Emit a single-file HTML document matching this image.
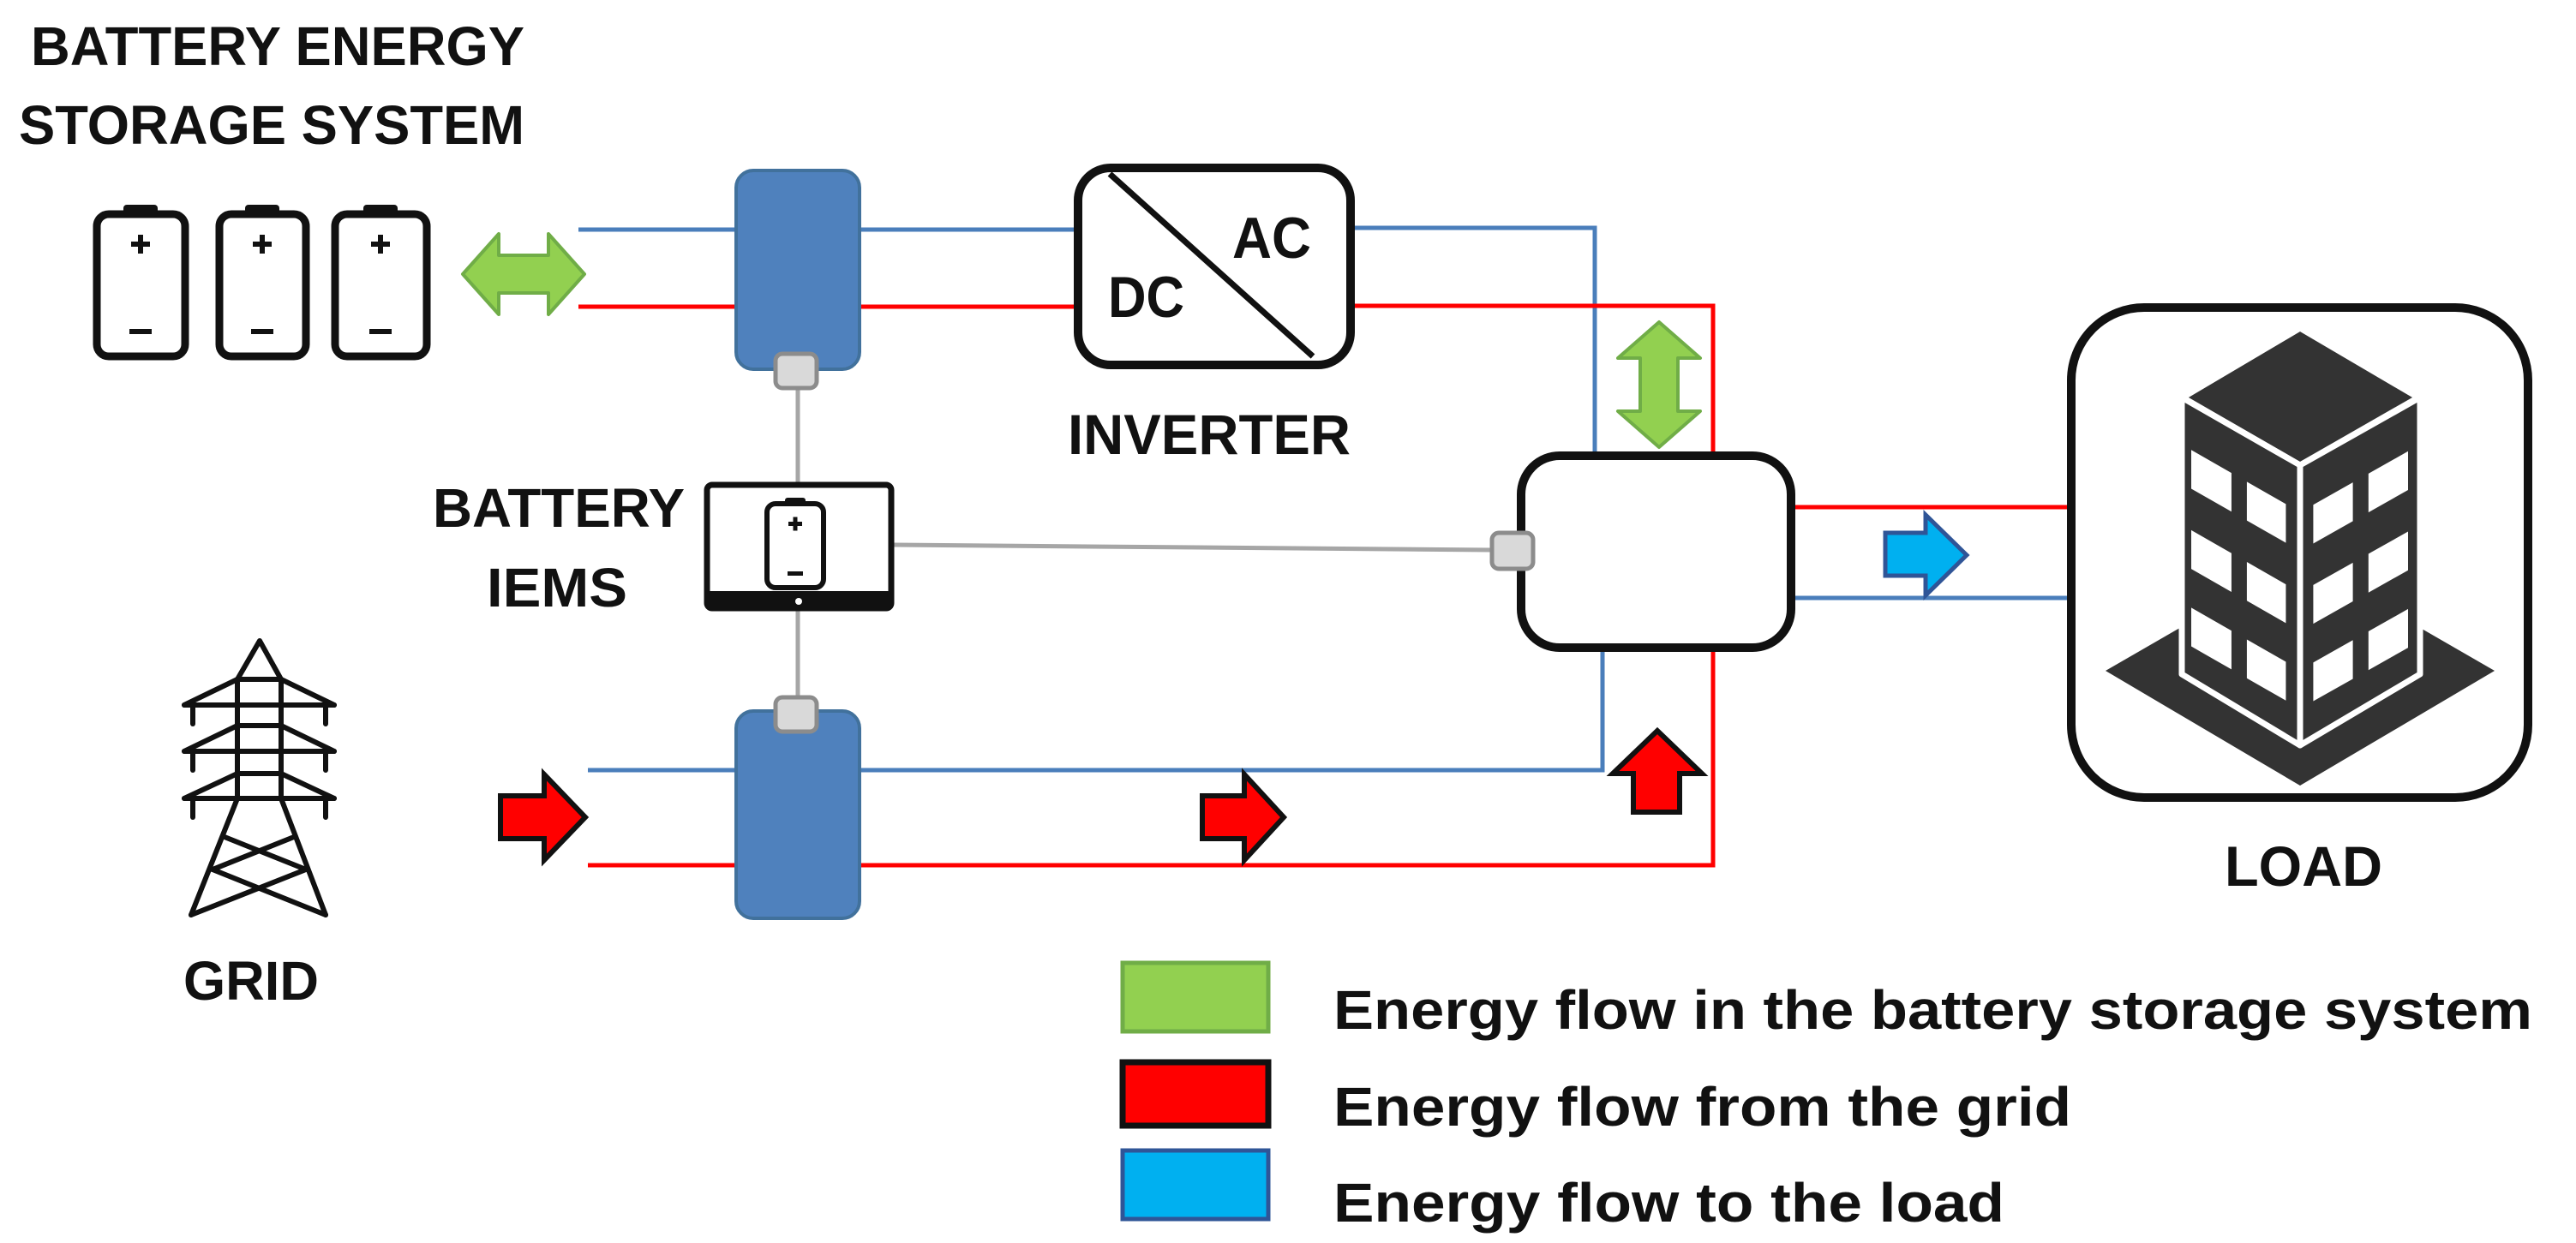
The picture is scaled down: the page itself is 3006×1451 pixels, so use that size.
<!DOCTYPE html>
<html><head><meta charset="utf-8"><style>
html,body{margin:0;padding:0;background:#fff;}
svg{display:block;}
text{font-family:"Liberation Sans",Arial,sans-serif;font-weight:bold;fill:#111;}
</style></head><body>
<svg width="3006" height="1451" viewBox="0 0 3006 1451" xmlns="http://www.w3.org/2000/svg">
<rect width="3006" height="1451" fill="#fff"/>
<!-- Titles -->
<text x="36" y="76" font-size="64" textLength="576" lengthAdjust="spacingAndGlyphs">BATTERY ENERGY</text>
<text x="22" y="168" font-size="64" textLength="590" lengthAdjust="spacingAndGlyphs">STORAGE SYSTEM</text>

<!-- Batteries -->
<g stroke="#111" stroke-width="9" fill="#fff">
<rect x="113" y="250" width="103" height="166" rx="14"/>
<rect x="256" y="250" width="101" height="166" rx="14"/>
<rect x="391" y="250" width="107" height="166" rx="14"/>
</g>
<g fill="#111">
<rect x="144" y="239" width="40" height="14" rx="4"/>
<rect x="286" y="239" width="40" height="14" rx="4"/>
<rect x="424" y="239" width="40" height="14" rx="4"/>
<!-- plus -->
<rect x="153" y="282" width="22" height="6"/><rect x="161" y="274" width="6" height="22"/>
<rect x="295" y="282" width="22" height="6"/><rect x="303" y="274" width="6" height="22"/>
<rect x="433" y="282" width="22" height="6"/><rect x="441" y="274" width="6" height="22"/>
<!-- minus -->
<rect x="151" y="384" width="26" height="6"/>
<rect x="293" y="384" width="26" height="6"/>
<rect x="431" y="384" width="26" height="6"/>
</g>

<!-- Green horizontal double arrow -->
<polygon points="540,320 582,273 582,298 640,298 640,273 682,320 640,367 640,342 582,342 582,367" fill="#92d050" stroke="#70ad47" stroke-width="4" stroke-linejoin="round"/>

<!-- wires -->
<g fill="none" stroke-width="5">
<line x1="675" y1="268" x2="860" y2="268" stroke="#4a7ebb"/>
<line x1="675" y1="358" x2="860" y2="358" stroke="#ff0000"/>
<line x1="1002" y1="268" x2="1253" y2="268" stroke="#4a7ebb"/>
<line x1="1002" y1="358" x2="1253" y2="358" stroke="#ff0000"/>
<polyline points="1578,266 1861,266 1861,528" stroke="#4a7ebb"/>
<polyline points="1578,357 1999,357 1999,528" stroke="#ff0000"/>
<line x1="686" y1="899" x2="860" y2="899" stroke="#4a7ebb"/>
<line x1="686" y1="1010" x2="860" y2="1010" stroke="#ff0000"/>
<polyline points="1002,899 1870,899 1870,760" stroke="#4a7ebb"/>
<polyline points="1002,1010 1999,1010 1999,760" stroke="#ff0000"/>
<line x1="2094" y1="592" x2="2412" y2="592" stroke="#ff0000"/>
<line x1="2094" y1="698" x2="2412" y2="698" stroke="#4a7ebb"/>
<line x1="931" y1="453" x2="931" y2="563" stroke="#a6a6a6"/>
<line x1="931" y1="713" x2="931" y2="812" stroke="#a6a6a6"/>
<line x1="1043" y1="636" x2="1740" y2="642" stroke="#a6a6a6"/>
</g>

<!-- Modules -->
<rect x="859" y="199" width="144" height="232" rx="20" fill="#4f81bd" stroke="#41719c" stroke-width="4"/>
<rect x="859" y="830" width="144" height="242" rx="20" fill="#4f81bd" stroke="#41719c" stroke-width="4"/>
<rect x="905" y="413" width="48" height="40" rx="8" fill="#d9d9d9" stroke="#8c8c8c" stroke-width="5"/>
<rect x="905" y="814" width="48" height="40" rx="8" fill="#d9d9d9" stroke="#8c8c8c" stroke-width="5"/>

<!-- Inverter -->
<rect x="1258" y="196" width="318" height="230" rx="38" fill="#fff" stroke="#111" stroke-width="10"/>
<line x1="1295" y1="203" x2="1532" y2="416" stroke="#111" stroke-width="7"/>
<text x="1438" y="301" font-size="68" textLength="92" lengthAdjust="spacingAndGlyphs">AC</text>
<text x="1293" y="370" font-size="68" textLength="89" lengthAdjust="spacingAndGlyphs">DC</text>
<text x="1246" y="530" font-size="66" textLength="330" lengthAdjust="spacingAndGlyphs">INVERTER</text>

<!-- IEMS tablet -->
<rect x="825" y="566" width="215" height="144" rx="6" fill="#fff" stroke="#111" stroke-width="7"/>
<rect x="825" y="690" width="215" height="22" rx="4" fill="#111"/>
<circle cx="932" cy="702" r="4" fill="#fff"/>
<rect x="895" y="588" width="66" height="98" rx="10" fill="#fff" stroke="#111" stroke-width="6"/>
<rect x="916" y="581" width="24" height="9" rx="3" fill="#111"/>
<rect x="920" y="609" width="16" height="5" fill="#111"/><rect x="925.5" y="603.5" width="5" height="16" fill="#111"/>
<rect x="919" y="667" width="18" height="5" fill="#111"/>
<text x="505" y="615" font-size="64" textLength="294" lengthAdjust="spacingAndGlyphs">BATTERY</text>
<text x="568" y="708" font-size="64" textLength="164" lengthAdjust="spacingAndGlyphs">IEMS</text>

<!-- Center box -->
<rect x="1775" y="532" width="315" height="224" rx="45" fill="#fff" stroke="#111" stroke-width="10"/>
<rect x="1741" y="622" width="48" height="42" rx="8" fill="#d9d9d9" stroke="#8c8c8c" stroke-width="5"/>

<!-- Green vertical double arrow -->
<polygon points="1936,376 1984,418 1958,418 1958,480 1984,480 1936,522 1888,480 1914,480 1914,418 1888,418" fill="#92d050" stroke="#70ad47" stroke-width="4" stroke-linejoin="round"/>

<!-- Red arrows -->
<polygon points="584,929 635,929 635,904 683,954 635,1004 635,979 584,979" fill="#ff0000" stroke="#111" stroke-width="6" stroke-linejoin="miter"/>
<polygon points="1403,929 1452,929 1452,904 1498,954 1452,1004 1452,979 1403,979" fill="#ff0000" stroke="#111" stroke-width="6"/>
<polygon points="1906,948 1906,903 1882,903 1934,853 1986,903 1960,903 1960,948" fill="#ff0000" stroke="#111" stroke-width="6"/>

<!-- Blue arrow -->
<polygon points="2200,622 2247,622 2247,601 2295,648 2247,695 2247,672 2200,672" fill="#00b0f0" stroke="#2f5597" stroke-width="5"/>

<!-- Load box -->
<rect x="2417" y="359" width="533" height="572" rx="85" fill="#fff" stroke="#111" stroke-width="10"/>
<polygon points="2457,783 2684,652 2911,783 2684,917" fill="#333"/>
<g stroke="#fff" stroke-width="7" stroke-linejoin="round">
<polygon points="2684,383 2822,464 2684,543 2547,464" fill="#333"/>
<polygon points="2546,464 2684,543 2684,870 2546,787" fill="#333"/>
<polygon points="2684,543 2824,464 2824,787 2684,870" fill="#333"/>
</g>
<g fill="#fff">
<g transform="matrix(138,79,0,323,2546,464)">
<rect x="0.08" y="0.17" width="0.34" height="0.14"/>
<rect x="0.55" y="0.17" width="0.33" height="0.14"/>
<rect x="0.08" y="0.46" width="0.34" height="0.14"/>
<rect x="0.55" y="0.46" width="0.33" height="0.14"/>
<rect x="0.08" y="0.74" width="0.34" height="0.14"/>
<rect x="0.55" y="0.74" width="0.33" height="0.14"/>
</g>
<g transform="matrix(140,-79,0,323,2684,543)">
<rect x="0.11" y="0.17" width="0.33" height="0.14"/>
<rect x="0.57" y="0.17" width="0.33" height="0.14"/>
<rect x="0.11" y="0.46" width="0.33" height="0.14"/>
<rect x="0.57" y="0.46" width="0.33" height="0.14"/>
<rect x="0.11" y="0.74" width="0.33" height="0.14"/>
<rect x="0.57" y="0.74" width="0.33" height="0.14"/>
</g>
</g>
<text x="2596" y="1034" font-size="66" textLength="184" lengthAdjust="spacingAndGlyphs">LOAD</text>

<!-- Tower -->
<g stroke="#111" stroke-width="6" fill="none" stroke-linecap="round" stroke-linejoin="round">
<polyline points="277,793 303,748 328,793"/>
<line x1="277" y1="793" x2="277" y2="932"/>
<line x1="328" y1="793" x2="328" y2="932"/>
<line x1="277" y1="793" x2="328" y2="793"/>
<line x1="277" y1="847" x2="328" y2="847"/>
<line x1="277" y1="903" x2="328" y2="903"/>
<line x1="215" y1="823" x2="390" y2="823"/>
<line x1="215" y1="877" x2="390" y2="877"/>
<line x1="215" y1="932" x2="390" y2="932"/>
<line x1="277" y1="793" x2="215" y2="823"/><line x1="328" y1="793" x2="390" y2="823"/>
<line x1="277" y1="847" x2="215" y2="877"/><line x1="328" y1="847" x2="390" y2="877"/>
<line x1="277" y1="903" x2="215" y2="932"/><line x1="328" y1="903" x2="390" y2="932"/>
<line x1="225" y1="823" x2="225" y2="845"/><line x1="380" y1="823" x2="380" y2="845"/>
<line x1="225" y1="877" x2="225" y2="899"/><line x1="380" y1="877" x2="380" y2="899"/>
<line x1="225" y1="932" x2="225" y2="954"/><line x1="380" y1="932" x2="380" y2="954"/>
<polyline points="277,932 223,1068"/>
<polyline points="328,932 380,1068"/>
<line x1="262" y1="977" x2="357" y2="1015"/>
<line x1="343" y1="977" x2="248" y2="1015"/>
<line x1="248" y1="1015" x2="380" y2="1068"/>
<line x1="357" y1="1015" x2="223" y2="1068"/>
</g>
<text x="214" y="1167" font-size="64" textLength="158" lengthAdjust="spacingAndGlyphs">GRID</text>

<!-- Legend -->
<rect x="1310" y="1124" width="170" height="80" fill="#92d050" stroke="#70ad47" stroke-width="5"/>
<rect x="1310" y="1240" width="170" height="74" fill="#ff0000" stroke="#111" stroke-width="7"/>
<rect x="1310" y="1343" width="170" height="80" fill="#00b0f0" stroke="#2f5597" stroke-width="5"/>
<text x="1556" y="1201" font-size="64" textLength="1399" lengthAdjust="spacingAndGlyphs">Energy flow in the battery storage system</text>
<text x="1556" y="1314" font-size="64" textLength="861" lengthAdjust="spacingAndGlyphs">Energy flow from the grid</text>
<text x="1556" y="1426" font-size="64" textLength="783" lengthAdjust="spacingAndGlyphs">Energy flow to the load</text>
</svg>
</body></html>
